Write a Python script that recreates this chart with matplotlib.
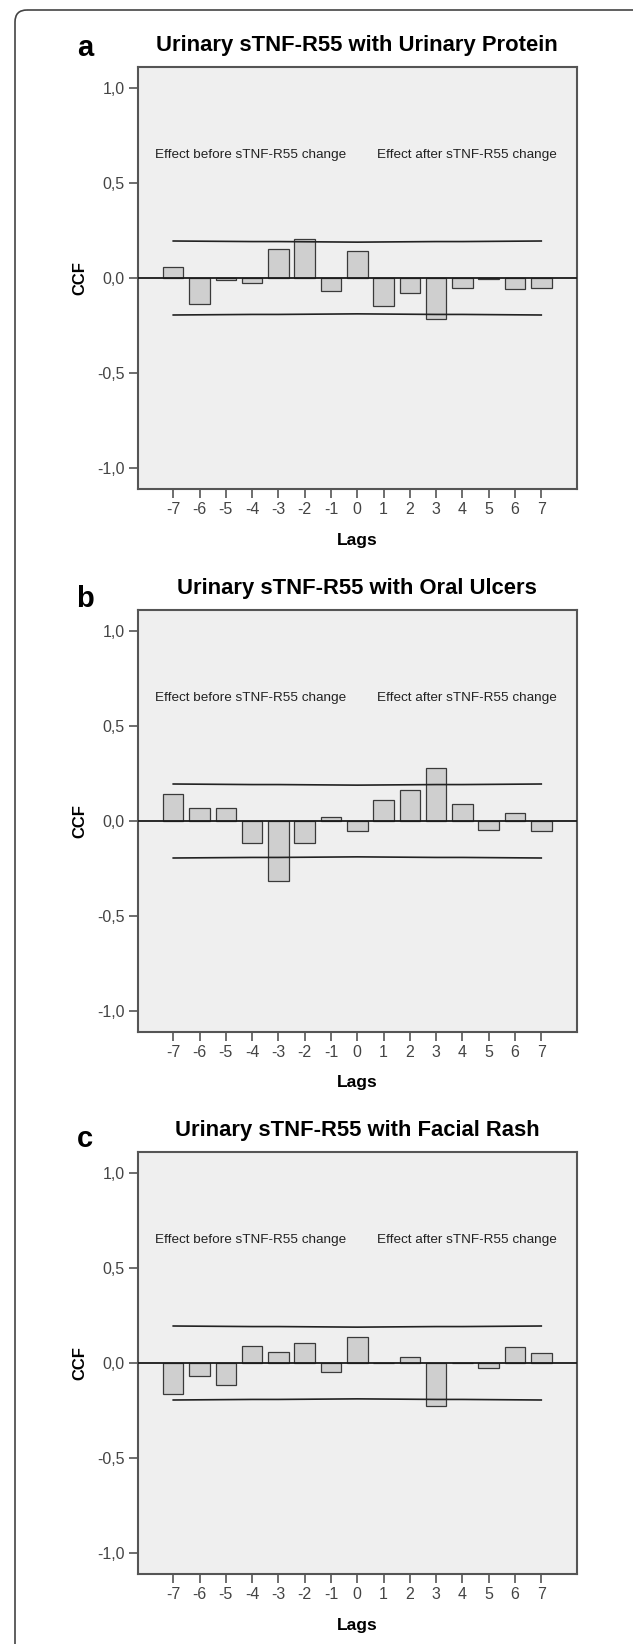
import matplotlib
matplotlib.use("Agg")
import matplotlib.pyplot as plt
from matplotlib.patches import FancyBboxPatch

# lags of the cross correlation
lags = [-7, -6, -5, -4, -3, -2, -1, 0, 1, 2, 3, 4, 5, 6, 7]

titles = ["Urinary sTNF-R55 with Urinary Protein",
          "Urinary sTNF-R55 with Oral Ulcers",
          "Urinary sTNF-R55 with Facial Rash"]
letters = ["a", "b", "c"]

ccf_protein = [0.056, -0.138, -0.009, -0.026, 0.154, 0.204, -0.066, 0.143,
               -0.150, -0.081, -0.214, -0.055, -0.004, -0.056, -0.054]
ccf_ulcers = [0.143, 0.070, 0.068, -0.116, -0.316, -0.117, 0.020, -0.051,
              0.111, 0.163, 0.277, 0.090, -0.045, 0.042, -0.054]
ccf_rash = [-0.161, -0.068, -0.114, 0.089, 0.060, 0.107, -0.047, 0.137,
            -0.002, 0.033, -0.225, -0.002, -0.028, 0.084, 0.053]

# upper confidence limit per lag (lower one is the negative)
conf_limit = [0.195, 0.194, 0.193, 0.192, 0.192, 0.191, 0.190, 0.189,
              0.190, 0.191, 0.192, 0.192, 0.193, 0.194, 0.195]

ytick_vals = [-1.0, -0.5, 0.0, 0.5, 1.0]
ytick_labels = ["-1,0", "-0,5", "0,0", "0,5", "1,0"]

W, H = 633, 1644
fig = plt.figure(figsize=(W / 100, H / 100), dpi=100)

arial = ["Liberation Sans", "DejaVu Sans"]

# background axes in pixel units for the rounded frame
bg = fig.add_axes([0, 0, 1, 1])
bg.set_xlim(0, W)
bg.set_ylim(H, 0)
bg.axis("off")
bg.add_patch(FancyBboxPatch((15, 10), 630, 1700,
                            boxstyle="round,pad=0,rounding_size=12",
                            fill=False, edgecolor="#444444", lw=1.2))

left, right = 138, 576.5
tops = [67, 610, 1152]
letter_base = [56, 607, 1147]
height = 422

for i, vals in enumerate([ccf_protein, ccf_ulcers, ccf_rash]):
    top = tops[i]
    bottom = top + height
    ax = fig.add_axes([left / W, 1 - bottom / H, (right - left) / W, height / H])
    ax.set_facecolor("#efefef")
    ax.bar(lags, vals, width=0.78, color="#cfcfcf", edgecolor="#3a3a3a", lw=0.9, zorder=2)
    ax.axhline(0, color="#1a1a1a", lw=1.3, zorder=3)
    ax.plot(lags, conf_limit, color="#222222", lw=1.2, zorder=3)
    ax.plot(lags, [-c for c in conf_limit], color="#222222", lw=1.2, zorder=3)
    ax.set_xlim(-8.34, 8.34)
    ax.set_ylim(-1.112, 1.112)
    ax.set_xticks(lags)
    ax.set_xticklabels([str(l) for l in lags], family=arial, fontsize=11.5)
    ax.set_yticks(ytick_vals)
    ax.set_yticklabels(ytick_labels, family=arial, fontsize=11.5)
    ax.tick_params(direction="out", length=6.5, width=1.2, color="#555555",
                   labelcolor="#444444", pad=3)
    for s in ax.spines.values():
        s.set_color("#555555")
        s.set_linewidth(1.5)

    ax.text(-7.69, 0.63, "Effect before sTNF-R55 change", ha="left", va="baseline",
            family=arial, fontsize=9.7, color="#222222")
    ax.text(0.75, 0.63, "Effect after sTNF-R55 change", ha="left", va="baseline",
            family=arial, fontsize=9.7, color="#222222")

    cx = (left + right) / 2
    fig.text(cx / W, 1 - (top - 16) / H, titles[i], ha="center", va="baseline",
             family=arial, fontweight="bold", fontsize=15.8)
    fig.text(85 / W, 1 - letter_base[i] / H, letters[i], ha="center", va="baseline",
             family=arial, fontweight="bold", fontsize=21)
    fig.text(80 / W, 1 - (top + height / 2) / H, "CCF", rotation=90, ha="center",
             va="center", family=arial, fontweight="bold", fontsize=12)
    fig.text(cx / W, 1 - (bottom + 51) / H, "Lags", ha="center", va="center",
             family=arial, fontweight="bold", fontsize=12.5)

fig.savefig("out.png", dpi=100)
